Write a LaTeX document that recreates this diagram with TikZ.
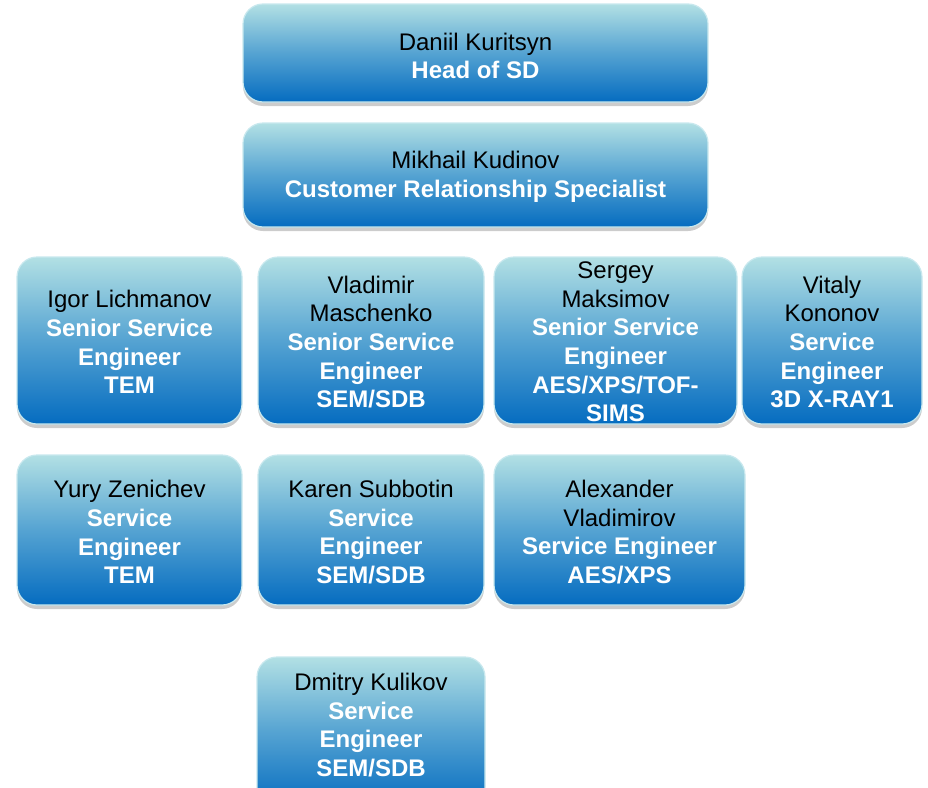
\documentclass[tikz,border=0pt]{standalone}
\usepackage{fontspec}
\setmainfont{Liberation Sans}
\usetikzlibrary{shadows}
\definecolor{topc}{RGB}{178,224,228}
\definecolor{midc}{RGB}{85,163,210}
\definecolor{botc}{RGB}{5,108,192}
\definecolor{edgec}{RGB}{200,232,238}
\tikzset{
  orgbox/.style={rectangle, rounded corners=20pt, inner sep=0pt,
    top color=topc, bottom color=botc, middle color=midc,
    draw=edgec, line width=1.2pt,
    drop shadow={shadow xshift=0pt, shadow yshift=-4pt, opacity=0.2, fill=black}},
  orgtxt/.style={align=center, font=\fontsize{24}{28.6}\selectfont, inner sep=0pt},
}
\newcommand{\ttl}[1]{\textcolor{white}{\bfseries #1}}
\begin{document}
\begin{tikzpicture}[x=1pt,y=-1pt]
\useasboundingbox (0,0) rectangle (928,787);
\clip (0,0) rectangle (928,787);
% boxes
\node[orgbox, minimum width=465pt, minimum height=98pt] (head) at (475.5,53) {};
\node[orgbox, minimum width=465pt, minimum height=104pt] (crs) at (475.5,175) {};
\node[orgbox, minimum width=225pt, minimum height=167pt] (a1) at (129.5,340.5) {};
\node[orgbox, minimum width=226pt, minimum height=167pt] (b1) at (371,340.5) {};
\node[orgbox, minimum width=243pt, minimum height=167pt] (c1) at (615.5,340.5) {};
\node[orgbox, minimum width=180pt, minimum height=167pt] (d1) at (832,340.5) {};
\node[orgbox, minimum width=225pt, minimum height=150pt] (a2) at (129.5,530) {};
\node[orgbox, minimum width=226pt, minimum height=150pt] (b2) at (371,530) {};
\node[orgbox, minimum width=251pt, minimum height=150pt] (c2) at (619.5,530) {};
\node[orgbox, minimum width=228pt, minimum height=150pt] (a3) at (371,732) {};
% texts
\node[orgtxt] (thead) at (475.5,56) {Daniil Kuritsyn\\\ttl{Head of SD}};
\node[orgtxt] (tcrs) at (475.5,177) {Mikhail Kudinov\\\ttl{Customer Relationship Specialist}};
\node[orgtxt] (ta1) at (129.5,342) {Igor Lichmanov\\\ttl{Senior Service}\\\ttl{Engineer}\\\ttl{TEM}};
\node[orgtxt] (tb1) at (371,342) {Vladimir\\Maschenko\\\ttl{Senior Service}\\\ttl{Engineer}\\\ttl{SEM/SDB}};
\node[orgtxt] (tc1) at (615.5,342) {Sergey\\Maksimov\\\ttl{Senior Service}\\\ttl{Engineer}\\\ttl{AES/XPS/TOF-}\\\ttl{SIMS}};
\node[orgtxt] (td1) at (832,342) {Vitaly\\Kononov\\\ttl{Service}\\\ttl{Engineer}\\\ttl{3D X-RAY1}};
\node[orgtxt] (ta2) at (129.5,532) {Yury Zenichev\\\ttl{Service}\\\ttl{Engineer}\\\ttl{TEM}};
\node[orgtxt] (tb2) at (371,532) {Karen Subbotin\\\ttl{Service}\\\ttl{Engineer}\\\ttl{SEM/SDB}};
\node[orgtxt] (tc2) at (619.5,532) {Alexander\\Vladimirov\\\ttl{Service Engineer}\\\ttl{AES/XPS}};
\node[orgtxt] (ta3) at (371,725) {Dmitry Kulikov\\\ttl{Service}\\\ttl{Engineer}\\\ttl{SEM/SDB}};
\end{tikzpicture}
\end{document}
